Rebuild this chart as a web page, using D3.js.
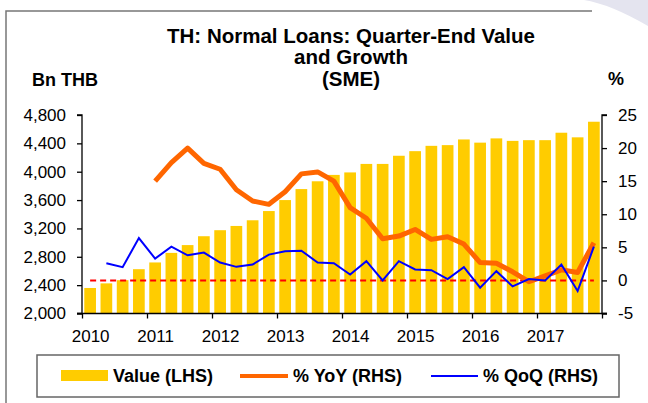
<!DOCTYPE html>
<html>
<head>
<meta charset="utf-8">
<script src="https://cdn.jsdelivr.net/npm/d3@7"></script>
<style>
  html, body { margin: 0; padding: 0; background: #fff; }
  svg { display: block; font-family: "Liberation Sans", Arial, sans-serif; }
  .tick text { font-size: 17px; fill: #000; }
</style>
</head>
<body>
<svg id="chart" width="648" height="403"></svg>
<script>
// Quarter-end values, 2010Q1 .. 2017Q4
const years = [2010, 2011, 2012, 2013, 2014, 2015, 2016, 2017];
const quarters = years.flatMap(y => ['Q1', 'Q2', 'Q3', 'Q4'].map(q => y + q));

// Bn THB (LHS)
const value = [
  2360, 2425, 2470, 2625, 2720, 2855, 2965, 3090,
  3175, 3235, 3315, 3445, 3600, 3755, 3865, 3955,
  3990, 4110, 4110, 4225, 4290, 4365, 4375, 4455,
  4410, 4470, 4435, 4445, 4445, 4550, 4485, 4705,
];

// % YoY (RHS)
const yoy = [
  null, null, null, null, 15.0, 17.8, 20.0, 17.7,
  16.8, 13.7, 12.0, 11.5, 13.4, 16.1, 16.4, 15.0,
  11.0, 9.4, 6.3, 6.7, 7.7, 6.2, 6.6, 5.5,
  2.7, 2.6, 1.3, -0.2, 0.7, 1.6, 1.2, 5.7,
];

// % QoQ (RHS)
const qoq = [
  null, 2.6, 2.0, 6.4, 3.3, 5.1, 3.8, 4.2,
  2.7, 2.05, 2.4, 3.9, 4.4, 4.5, 2.7, 2.6,
  0.9, 2.9, 0.0, 2.9, 1.65, 1.55, 0.2, 2.0,
  -1.1, 1.4, -0.9, 0.2, 0.0, 2.4, -1.6, 5.1,
];

const leftTicks = [2000, 2400, 2800, 3200, 3600, 4000, 4400, 4800];
const rightTicks = [-5, 0, 5, 10, 15, 20, 25];
const yearTicks = [2010, 2011, 2012, 2013, 2014, 2015, 2016, 2017, 2018];

const titleLines = ['TH: Normal Loans: Quarter-End Value', 'and Growth', '(SME)'];

const PLOT = { left: 82, right: 602, top: 115, bottom: 313.5 };
const BAR = '#FFCC00', YOY = '#FF6600', QOQ = '#0000FF', ZERO = '#FF0000';

const svg = d3.select('#chart');

// background decoration: outer frame + soft corner shape
svg.append('path')
  .attr('d', 'M584,0 Q610,4 648,26 L648,0 Z')
  .attr('fill', '#e4e4ef');
svg.append('path')
  .attr('d', 'M6,403 L6,11 L592,11')
  .attr('fill', 'none')
  .attr('stroke', '#777')
  .attr('stroke-width', 1.5);

// scales
const x = d3.scaleBand().domain(quarters)
  .range([PLOT.left, PLOT.right]).paddingInner(0.28).paddingOuter(0.14);
const xYear = d3.scaleLinear().domain([2010, 2018]).range([PLOT.left, PLOT.right]);
const yL = d3.scaleLinear().domain([2000, 4800]).range([PLOT.bottom, PLOT.top]);
const yR = d3.scaleLinear().domain([-5, 25]).range([PLOT.bottom, PLOT.top]);
const cx = q => x(q) + x.bandwidth() / 2;

// bars
svg.append('g').selectAll('rect')
  .data(quarters)
  .join('rect')
  .attr('x', q => x(q))
  .attr('width', x.bandwidth())
  .attr('y', (q, i) => yL(value[i]))
  .attr('height', (q, i) => yL(2000) - yL(value[i]))
  .attr('fill', BAR);

// zero reference line (RHS)
svg.append('path')
  .datum(quarters)
  .attr('d', d3.line().x(cx).y(() => yR(0)))
  .attr('fill', 'none')
  .attr('stroke', ZERO)
  .attr('stroke-width', 2)
  .attr('stroke-dasharray', '6,4');

// lines
const lineOf = arr => d3.line()
  .defined((q, i) => arr[i] !== null)
  .x(cx)
  .y((q, i) => yR(arr[i]));

svg.append('path')
  .datum(quarters)
  .attr('d', lineOf(yoy))
  .attr('fill', 'none')
  .attr('stroke', YOY)
  .attr('stroke-width', 5)
  .attr('stroke-linejoin', 'round');

svg.append('path')
  .datum(quarters)
  .attr('d', lineOf(qoq))
  .attr('fill', 'none')
  .attr('stroke', QOQ)
  .attr('stroke-width', 2)
  .attr('stroke-linejoin', 'miter');

// axes
const gL = svg.append('g')
  .attr('transform', `translate(${PLOT.left},0)`)
  .call(d3.axisLeft(yL).tickValues(leftTicks).tickFormat(d3.format(',')).tickSize(5).tickPadding(11));
const gR = svg.append('g')
  .attr('transform', `translate(${PLOT.right},0)`)
  .call(d3.axisRight(yR).tickValues(rightTicks).tickFormat(d => String(d)).tickSize(5).tickPadding(11));
const gB = svg.append('g')
  .attr('transform', `translate(0,${PLOT.bottom})`)
  .call(d3.axisBottom(xYear).tickValues(yearTicks)
    .tickFormat(d => d < 2018 ? d : '').tickSize(5).tickPadding(11));

[gL, gR, gB].forEach(g => {
  g.select('.domain').attr('stroke', '#000').attr('stroke-width', 1.3);
  g.selectAll('.tick line').attr('stroke', '#000').attr('stroke-width', 1.3);
  g.selectAll('.tick text').attr('font-size', 17);
});
gL.select('.domain').attr('d', `M-5,${PLOT.top}H0V${PLOT.bottom}H-5`);
gR.select('.domain').attr('d', `M5,${PLOT.top}H0V${PLOT.bottom}H5`);
gB.select('.domain').attr('d', `M${PLOT.left - 5},0H${PLOT.right + 5}`);
gR.selectAll('.tick text').attr('x', 16);
// year labels sit over the first quarter of each year
gB.selectAll('.tick text').attr('dx', x.step() / 2);

// title + axis titles
svg.append('text')
  .attr('font-size', 20.5).attr('font-weight', 'bold').attr('text-anchor', 'middle')
  .selectAll('tspan')
  .data(titleLines)
  .join('tspan')
  .attr('x', 351)
  .attr('y', (d, i) => 42.5 + i * 21.7)
  .text(d => d);

svg.append('text')
  .attr('x', 32).attr('y', 86)
  .attr('font-size', 18).attr('font-weight', 'bold')
  .text('Bn THB');
svg.append('text')
  .attr('x', 608).attr('y', 85)
  .attr('font-size', 18).attr('font-weight', 'bold')
  .text('%');

// legend
const lg = svg.append('g');
lg.append('rect')
  .attr('x', 37).attr('y', 355).attr('width', 582).attr('height', 42)
  .attr('fill', '#fff').attr('stroke', '#666').attr('stroke-width', 1.5);

const legendItems = [
  { label: 'Value (LHS)', kind: 'bar', color: BAR, x0: 61, x1: 108 },
  { label: '% YoY (RHS)', kind: 'line', color: YOY, width: 4, x0: 240, x1: 288 },
  { label: '% QoQ (RHS)', kind: 'line', color: QOQ, width: 2, x0: 431, x1: 478 },
];
legendItems.forEach(d => {
  if (d.kind === 'bar') {
    lg.append('rect')
      .attr('x', d.x0).attr('y', 370).attr('width', d.x1 - d.x0).attr('height', 11)
      .attr('fill', d.color);
  } else {
    lg.append('line')
      .attr('x1', d.x0).attr('x2', d.x1).attr('y1', 376).attr('y2', 376)
      .attr('stroke', d.color).attr('stroke-width', d.width);
  }
  lg.append('text')
    .attr('x', d.x1 + 5).attr('y', 382)
    .attr('font-size', 18).attr('font-weight', 'bold')
    .text(d.label);
});
</script>
</body>
</html>
